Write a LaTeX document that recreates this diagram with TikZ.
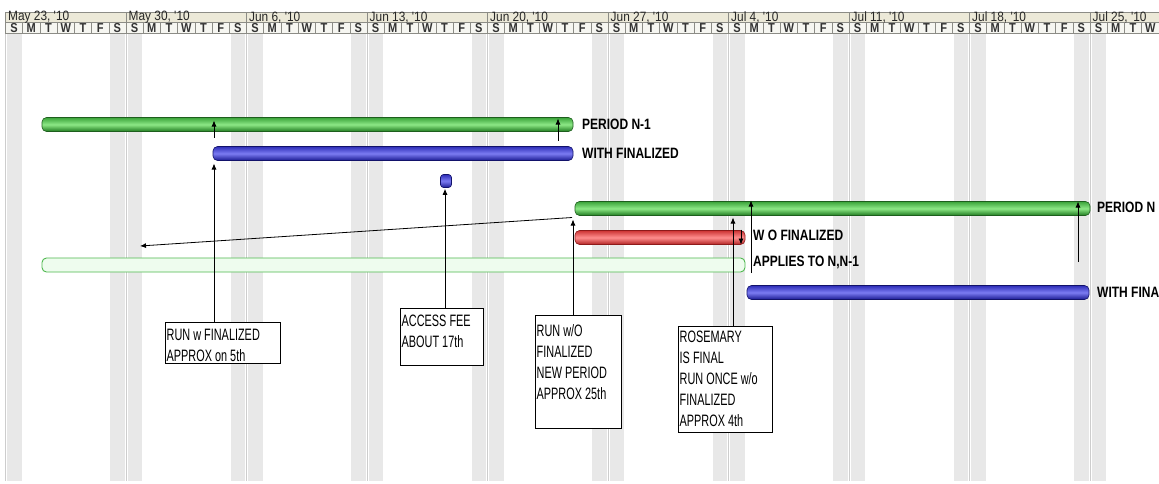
\documentclass[tikz,border=0pt]{standalone}
\usepackage{fontspec}
\setmainfont{Liberation Sans}
\newfontfamily\lblfont[FakeStretch=0.8]{Liberation Sans}
\newfontfamily\boxfont[FakeStretch=0.66]{Liberation Sans}
\newfontfamily\hdrfont[FakeStretch=0.88]{Liberation Sans}
\newfontfamily\dayfont[FakeStretch=0.85]{Liberation Sans}
\usetikzlibrary{arrows.meta,calc}
\definecolor{hdrtan}{HTML}{ECE9D8}
\definecolor{dayfill}{HTML}{F6F6F1}
\definecolor{cellline}{HTML}{8C8C86}
\definecolor{wkend}{HTML}{E8E8E8}
\definecolor{wkline}{HTML}{CDCDCD}
\definecolor{gtop}{HTML}{3AA33A}
\definecolor{gmid}{HTML}{8DE886}
\definecolor{gbot}{HTML}{1F7A1F}
\definecolor{gdraw}{HTML}{1D5E1D}
\definecolor{btop}{HTML}{2E2EB8}
\definecolor{bmid}{HTML}{7C7CF2}
\definecolor{bbot}{HTML}{1A1A92}
\definecolor{bdraw}{HTML}{12126A}
\definecolor{rtop}{HTML}{CC3434}
\definecolor{rmid}{HTML}{FF8E8E}
\definecolor{rbot}{HTML}{B02222}
\definecolor{rdraw}{HTML}{8E1A1A}
\definecolor{hfill}{HTML}{EEFCEE}
\definecolor{hdraw}{HTML}{4FB84F}
\begin{document}
\begin{tikzpicture}[x=1pt,y=-1pt,
  bar/.style={rounded corners=4.5pt, minimum height=14pt, inner sep=0pt, outer sep=0pt, anchor=west, line width=0.6pt},
  gbar/.style={bar, draw=gdraw, top color=gtop, bottom color=gbot, middle color=gmid},
  bbar/.style={bar, draw=bdraw, top color=btop, bottom color=bbot, middle color=bmid},
  rbar/.style={bar, draw=rdraw, top color=rtop, bottom color=rbot, middle color=rmid},
  hbar/.style={bar, draw=hdraw, fill=hfill, line width=0.9pt},
  lbl/.style={anchor=west, inner sep=0pt, font=\lblfont\bfseries\fontsize{15}{15}\selectfont, text=black},
  boxst/.style={draw=black, line width=0.9pt, fill=white, inner sep=0pt, anchor=north west},
  btxt/.style={anchor=north west, align=left, inner sep=0pt, font=\boxfont\fontsize{16.5}{21}\selectfont, text=black},
  arr/.style={line width=0.8pt, -{Latex[length=6pt,width=5pt]}},
  hdrlbl/.style={anchor=west, inner sep=0pt, font=\hdrfont\fontsize{13.5}{13.5}\selectfont, text=black!85},
  daylbl/.style={inner sep=0pt, font=\dayfont\bfseries\fontsize{13}{13}\selectfont, text=black!80}
]
\useasboundingbox (0,0) rectangle (1159,483);
\fill[white] (0,0) rectangle (1159,483);

% weekend stripes and week lines
\foreach \w in {0,...,9}{
  \pgfmathsetmacro\xo{5.5+120.5*\w}
  \fill[wkend] (\xo+1.5,34) rectangle (\xo+16,481);
  \fill[wkend] (\xo+104.5,34) rectangle (\xo+119,481);
  \draw[wkline, line width=0.8pt] (\xo,34) -- (\xo,481);
}

% header
\fill[hdrtan] (5,12.5) rectangle (1159,22);
\fill[dayfill] (5,22) rectangle (1159,33);
\draw[cellline, line width=0.6pt] (5,12.5) -- (1159,12.5);
\draw[cellline, line width=0.6pt] (5,22) -- (1159,22);
\draw[cellline, line width=0.8pt] (5,33) -- (1159,33);
\foreach \n in {0,...,66}{
  \pgfmathsetmacro\xa{5.5+17.2143*\n}
  \pgfmathtruncatemacro\k{mod(\n,7)}
  \draw[cellline, line width=0.5pt] (\xa,22) -- (\xa,33);
  \node[daylbl] (d\n) at (\xa+8.6,27.6) {\ifcase\k S\or M\or T\or W\or T\or F\or S\fi};
}
\foreach \w/\lab in {0/{May 23, '10},1/{May 30, '10},2/{Jun 6, '10},3/{Jun 13, '10},4/{Jun 20, '10},5/{Jun 27, '10},6/{Jul 4, '10},7/{Jul 11, '10},8/{Jul 18, '10},9/{Jul 25, '10}}{
  \pgfmathsetmacro\xo{5.5+120.5*\w}
  \draw[cellline, line width=0.6pt] (\xo,12.5) -- (\xo,22);
  \node[hdrlbl] (w\w) at (\xo+2.5,17.2) {\lab};
}

% bars
\node[gbar, minimum width=531pt] (pn1) at (42,124.5) {};
\node[bbar, minimum width=360pt] (wf1) at (213,153.5) {};
\node[rounded corners=3pt, draw=bdraw, top color=btop, bottom color=bbot, middle color=bmid, minimum width=11pt, minimum height=13pt, inner sep=0pt, line width=0.6pt] (ms) at (446,181) {};
\node[gbar, minimum width=515pt] (pn) at (575,208.5) {};
\node[rbar, minimum width=170pt] (wo) at (575,237.5) {};
\node[hbar, minimum width=703pt] (ap) at (42,265) {};
\node[bbar, minimum width=342pt] (wf2) at (747,292.5) {};

% bar labels
\node[lbl] (lpn1) at ($(pn1.east)+(9,0)$) {PERIOD N-1};
\node[lbl] (lwf1) at ($(wf1.east)+(9,0)$) {WITH FINALIZED};
\node[lbl] (lpn) at ($(pn.east)+(7,-1)$) {PERIOD N};
\node[lbl] (lwo) at ($(wo.east)+(8,-2)$) {W O FINALIZED};
\node[lbl] (lap) at ($(ap.east)+(8,-3)$) {APPLIES TO N,N-1};
\node[lbl] (lwf2) at ($(wf2.east)+(8,0)$) {WITH FINA};

% note boxes
\node[boxst, minimum width=115pt, minimum height=41pt] (b1) at (165,322) {};
\node[boxst, minimum width=83pt, minimum height=57pt] (b2) at (400,308) {};
\node[boxst, minimum width=86pt, minimum height=113pt] (b3) at (535,315) {};
\node[boxst, minimum width=94pt, minimum height=106pt] (b4) at (678,326) {};

% x positions of connectors
\coordinate (xa) at (214,0);
\coordinate (xb) at (558,0);
\coordinate (xc) at (445,0);
\coordinate (xd) at (573,0);
\coordinate (xe) at (733,0);
\coordinate (xf) at (751,0);
\coordinate (xg) at (741,0);
\coordinate (xh) at (1078,0);
\coordinate (dtip) at (140,246);
\coordinate (f0) at (751,273);
\coordinate (h0) at (1078,262);

% connectors
\draw[arr] (b1.north -| xa) -- ($(wf1.south -| xa)+(0,3)$);
\draw[arr] ($(pn1.south -| xa)+(0,6)$) -- ($(pn1.north -| xa)+(0,3)$);
\draw[arr] ($(wf1.north -| xb)+(0,-6)$) -- ($(pn1.north -| xb)+(0,1)$);
\draw[arr] (b2.north -| xc) -- ($(ms.south -| xc)+(0,1)$);
\draw[arr] (b3.north -| xd) -- ($(pn.south -| xd)+(0,4)$);
\draw[arr] ($(pn.south west)+(-3,2)$) -- (dtip);
\draw[arr] (b4.north -| xe) -- ($(pn.south -| xe)+(0,2)$);
\draw[arr] (f0) -- ($(pn.north -| xf)+(0,-1)$);
\draw[arr] ($(wo.north -| xg)+(0,-1)$) -- (wo.south -| xg);
\draw[arr] (h0) -- (pn.north -| xh);

% box texts
\node[btxt] (t1) at ($(b1.north west)+(1.5,7)$) {RUN w FINALIZED\\APPROX on 5th};
\node[btxt] (t2) at ($(b2.north west)+(1.5,7)$) {ACCESS FEE\\ABOUT 17th};
\node[btxt] (t3) at ($(b3.north west)+(1.5,9)$) {RUN w/O\\FINALIZED\\NEW PERIOD\\APPROX 25th};
\node[btxt] (t4) at ($(b4.north west)+(1.5,5)$) {ROSEMARY\\IS FINAL\\RUN ONCE w/o\\FINALIZED\\APPROX 4th};
\end{tikzpicture}
\end{document}
